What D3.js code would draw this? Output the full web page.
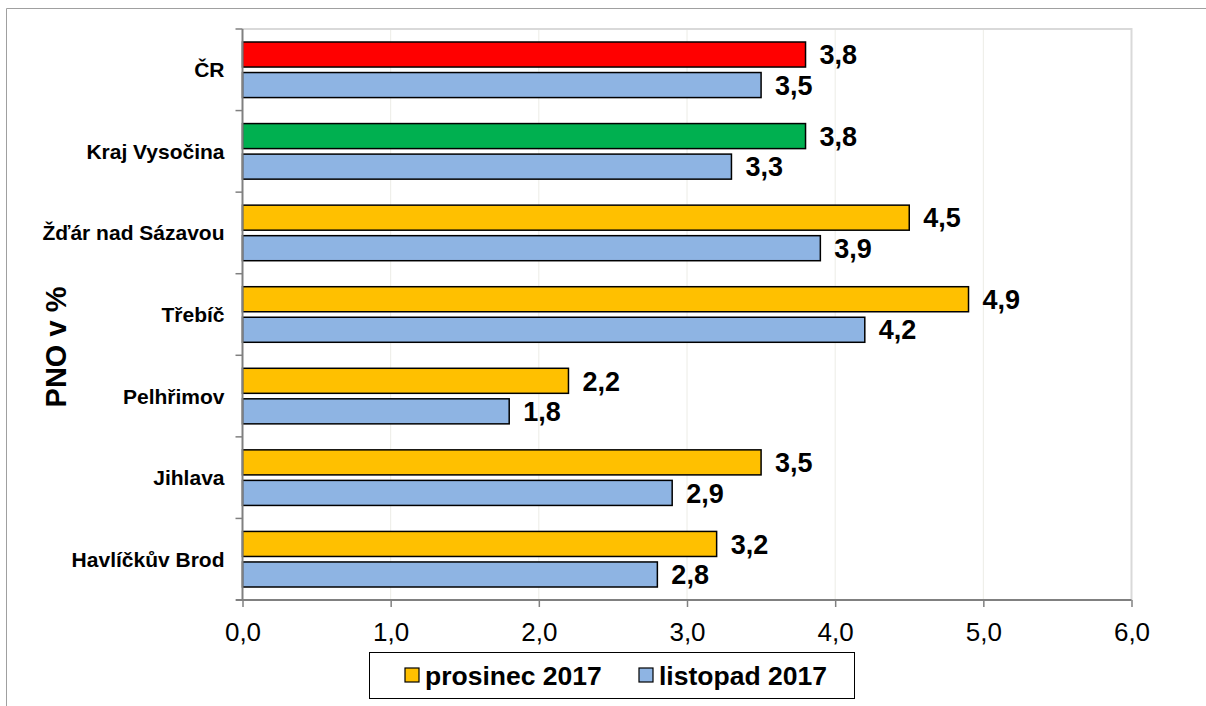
<!DOCTYPE html>
<html><head><meta charset="utf-8">
<script src="https://cdn.jsdelivr.net/npm/d3@7"></script>
<style>body{margin:0;background:#fff}svg{display:block;font-family:Arial,"Liberation Sans",sans-serif}</style>
</head><body><svg id="c" width="1206" height="706"></svg>
<script>
const categories = ["ČR","Kraj Vysočina","Žďár nad Sázavou","Třebíč","Pelhřimov","Jihlava","Havlíčkův Brod"];
const prosinec = [3.8,3.8,4.5,4.9,2.2,3.5,3.2];
const listopad = [3.5,3.3,3.9,4.2,1.8,2.9,2.8];
const prosinecColors = ["#ff0000","#00b050","#ffc000","#ffc000","#ffc000","#ffc000","#ffc000"];
const listopadColor = "#8eb4e3";
const seriesNames = ["prosinec 2017","listopad 2017"];
const legendColors = ["#ffc000","#8eb4e3"];
const xTicks = [0,1,2,3,4,5,6];

const svg = d3.select("#c");
// outer frame
svg.append("path").attr("d","M6.5,706 V8.5 H1206").attr("fill","none").attr("stroke","#a0a0a0").attr("stroke-width",1);

const L=242.5, R=1131.5, T=29, B=600;
const x = d3.scaleLinear().domain([0,6]).range([L,R]);
const y = d3.scaleBand().domain(categories).range([T,B]);
const inner = d3.scaleBand().domain([0,1]).range([13,y.bandwidth()-13]).paddingInner(0.18);

// gridlines
svg.append("g").selectAll("line").data(xTicks.slice(1,-1)).join("line")
  .attr("x1",d=>x(d)).attr("x2",d=>x(d)).attr("y1",T).attr("y2",B)
  .attr("stroke","#ececE6").attr("stroke-width",1);
// plot border top/right
svg.append("path").attr("d",`M${L},${T} H${R} V${B}`).attr("fill","none").attr("stroke","#d9d9d9").attr("stroke-width",2);

const fmt = v => d3.format(".1f")(v).replace(".",",");

const g = svg.append("g");
categories.forEach((c,i)=>{
  const vals=[prosinec[i],listopad[i]];
  const cols=[prosinecColors[i],listopadColor];
  vals.forEach((v,j)=>{
    const y0 = y(c)+inner(j);
    g.append("rect").attr("x",x(0)).attr("y",y0).attr("width",x(v)-x(0)).attr("height",inner.bandwidth())
      .attr("fill",cols[j]).attr("stroke","#000").attr("stroke-width",1.5);
    g.append("text").attr("x",x(v)+14).attr("y",y0+inner.bandwidth()/2).attr("dy","0.36em")
      .attr("font-size",27).attr("font-weight","bold").attr("fill","#000").text(fmt(v));
  });
});

// x axis
const xa = svg.append("g").attr("transform",`translate(0,${B})`)
  .call(d3.axisBottom(x).tickValues(xTicks).tickFormat(fmt).tickSize(7).tickSizeOuter(0));
xa.select(".domain").attr("stroke","#808080").attr("stroke-width",2).attr("d",`M236,0H${R}`);
xa.selectAll(".tick line").attr("stroke","#808080").attr("stroke-width",1.5);
xa.selectAll("text").attr("font-size",26).attr("fill","#000").attr("font-family","Arial,'Liberation Sans',sans-serif")
  .attr("y",32).attr("dy","0.36em");

// y axis
const ya = svg.append("g").attr("transform",`translate(${L},0)`);
ya.append("line").attr("x1",0).attr("x2",0).attr("y1",T).attr("y2",B).attr("stroke","#808080").attr("stroke-width",2);
const bounds = categories.map(c=>y(c)).concat([B]);
ya.selectAll("line.t").data(bounds).join("line").attr("class","t")
  .attr("x1",-7).attr("x2",0).attr("y1",d=>d).attr("y2",d=>d).attr("stroke","#808080").attr("stroke-width",1.5);
ya.selectAll("text").data(categories).join("text")
  .attr("x",-18).attr("y",d=>y(d)+y.bandwidth()/2).attr("dy","0.36em").attr("text-anchor","end")
  .attr("font-size",21).attr("font-weight","bold").text(d=>d);

svg.append("text").attr("transform","translate(66,347) rotate(-90)").attr("text-anchor","middle")
  .attr("font-size",29).attr("font-weight","bold").text("PNO v %");

// legend
const lg = svg.append("g");
lg.append("rect").attr("x",369.5).attr("y",652.5).attr("width",485).attr("height",46).attr("fill","#fff").attr("stroke","#000").attr("stroke-width",1);
const lx=[405,639];
seriesNames.forEach((n,i)=>{
  lg.append("rect").attr("x",lx[i]).attr("y",668).attr("width",14).attr("height",14).attr("fill",legendColors[i]).attr("stroke","#000").attr("stroke-width",1.2);
  lg.append("text").attr("x",lx[i]+20).attr("y",675.5).attr("dy","0.36em").attr("font-size",26.5).attr("font-weight","bold").text(n);
});
</script></body></html>
